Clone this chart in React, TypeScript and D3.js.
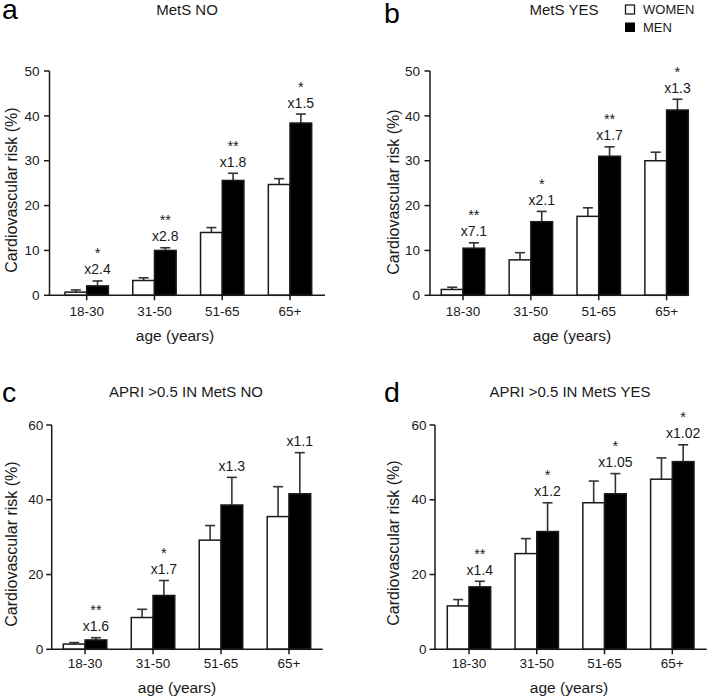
import React from "react";
import * as d3 from "d3";

const categories = ["18-30", "31-50", "51-65", "65+"];
const seriesNames = ["WOMEN", "MEN"];

// Panel a: MetS NO
const aWomen = [0.7, 3.3, 14.0, 24.7];
const aWomenErr = [1.2, 3.9, 15.1, 26.0];
const aMen = [2.1, 10.0, 25.6, 38.4];
const aMenErr = [3.2, 10.6, 27.2, 40.4];
const aStars = ["*", "**", "**", "*"];
const aRatios = ["x2.4", "x2.8", "x1.8", "x1.5"];

// Panel b: MetS YES
const bWomen = [1.3, 7.9, 17.6, 30.0];
const bWomenErr = [1.8, 9.5, 19.5, 31.9];
const bMen = [10.5, 16.4, 31.0, 41.3];
const bMenErr = [11.7, 18.7, 33.1, 43.7];
const bStars = ["**", "*", "**", "*"];
const bRatios = ["x7.1", "x2.1", "x1.7", "x1.3"];

// Panel c: APRI >0.5 IN MetS NO
const cWomen = [1.4, 8.5, 29.2, 35.5];
const cWomenErr = [1.8, 10.7, 33.1, 43.5];
const cMen = [2.5, 14.4, 38.6, 41.6];
const cMenErr = [3.1, 18.4, 46.0, 52.6];
const cStars = ["**", "*", "", ""];
const cRatios = ["x1.6", "x1.7", "x1.3", "x1.1"];

// Panel d: APRI >0.5 IN MetS YES
const dWomen = [11.6, 25.6, 39.2, 45.5];
const dWomenErr = [13.3, 29.6, 45.0, 51.2];
const dMen = [16.7, 31.5, 41.6, 50.2];
const dMenErr = [18.2, 39.2, 47.0, 54.7];
const dStars = ["**", "*", "*", "*"];
const dRatios = ["x1.4", "x1.2", "x1.05", "x1.02"];

const yTicksAB = [0, 10, 20, 30, 40, 50];
const yTicksCD = [0, 20, 40, 60];

const panelLetters = ["a", "b", "c", "d"];
const panelTitles = ["MetS NO", "MetS YES", "APRI >0.5 IN MetS NO", "APRI >0.5 IN MetS YES"];
const yTitle = "Cardiovascular risk (%)";
const xTitle = "age (years)";

const FONT = "'Liberation Sans', Arial, Helvetica, sans-serif";
const INK = "#1a1a1a";

type Layout = {
  axisX: number; axisEnd: number; barStart: number; barEnd: number;
  yTopPx: number; y0Px: number; yMax: number; ticks: number[];
  titleX: number; titleY: number; letterX: number; letterY: number;
  yTitleX: number; yTitleY: number; xLabY: number; xTitleX: number; xTitleY: number;
  tickGap: number;
};

const layouts: Layout[] = [
  { axisX: 49.5, axisEnd: 325, barStart: 65, barEnd: 311.7, yTopPx: 71, y0Px: 295.3, yMax: 50, ticks: yTicksAB,
    titleX: 187, titleY: 14.5, letterX: 2, letterY: 18.5, yTitleX: 17, yTitleY: 190, xLabY: 315.5, xTitleX: 175, xTitleY: 340.5, tickGap: 10 },
  { axisX: 430, axisEnd: 688, barStart: 441.3, barEnd: 688.3, yTopPx: 71, y0Px: 295.3, yMax: 50, ticks: yTicksAB,
    titleX: 564, titleY: 14.5, letterX: 384, letterY: 23, yTitleX: 399, yTitleY: 192, xLabY: 315.5, xTitleX: 572, xTitleY: 340.5, tickGap: 10 },
  { axisX: 51.7, axisEnd: 322.7, barStart: 63.3, barEnd: 310.7, yTopPx: 425, y0Px: 649.3, yMax: 60, ticks: yTicksCD,
    titleX: 186, titleY: 397, letterX: 2, letterY: 402, yTitleX: 17, yTitleY: 544, xLabY: 668, xTitleX: 177, xTitleY: 693, tickGap: 8.5 },
  { axisX: 435, axisEnd: 706.7, barStart: 447.3, barEnd: 694, yTopPx: 425, y0Px: 649.3, yMax: 60, ticks: yTicksCD,
    titleX: 570, titleY: 397, letterX: 384, letterY: 402, yTitleX: 399, yTitleY: 543, xLabY: 668, xTitleX: 569, xTitleY: 693, tickGap: 8.5 },
];

const panelData = [
  { women: aWomen, womenErr: aWomenErr, men: aMen, menErr: aMenErr, stars: aStars, ratios: aRatios },
  { women: bWomen, womenErr: bWomenErr, men: bMen, menErr: bMenErr, stars: bStars, ratios: bRatios },
  { women: cWomen, womenErr: cWomenErr, men: cMen, menErr: cMenErr, stars: cStars, ratios: cRatios },
  { women: dWomen, womenErr: dWomenErr, men: dMen, menErr: dMenErr, stars: dStars, ratios: dRatios },
];

function Panel({ idx }: { idx: number }) {
  const L = layouts[idx];
  const D = panelData[idx];
  const y = d3.scaleLinear().domain([0, L.yMax]).range([L.y0Px, L.yTopPx]);
  const x = d3.scaleBand<string>().domain(categories).range([L.barStart, L.barEnd]).paddingInner(0.36).paddingOuter(0);
  const xs = d3.scaleBand<string>().domain(seriesNames).range([0, x.bandwidth()]);
  const bw = xs.bandwidth();
  const capHalf = 5;

  const bars: React.ReactNode[] = [];
  categories.forEach((cat, i) => {
    const series = [
      { name: "WOMEN", v: D.women[i], e: D.womenErr[i], fill: "#ffffff" },
      { name: "MEN", v: D.men[i], e: D.menErr[i], fill: "#000000" },
    ];
    series.forEach((s) => {
      const bx = (x(cat) as number) + (xs(s.name) as number);
      const cx = bx + bw / 2;
      bars.push(
        <g key={cat + s.name}>
          <line x1={cx} x2={cx} y1={y(s.v)} y2={y(s.e)} stroke="#333" strokeWidth={1.6} />
          <line x1={cx - capHalf} x2={cx + capHalf} y1={y(s.e)} y2={y(s.e)} stroke="#333" strokeWidth={1.6} />
          <rect x={bx} y={y(s.v)} width={bw} height={y(0) - y(s.v)} fill={s.fill} stroke={INK} strokeWidth={1.5} />
        </g>
      );
    });
    const mx = (x(cat) as number) + (xs("MEN") as number) + bw / 2;
    const base = y(D.menErr[i]) - 6.5;
    bars.push(
      <g key={cat + "ann"} fontFamily={FONT} fill={INK} textAnchor="middle">
        <text x={mx} y={base} fontSize={14}>{D.ratios[i]}</text>
        {D.stars[i] ? <text x={mx} y={base - 16} fontSize={14.5}>{D.stars[i]}</text> : null}
      </g>
    );
  });

  return (
    <g>
      <text x={L.letterX} y={L.letterY} fontFamily={FONT} fontSize={28.5} fill="#000">{panelLetters[idx]}</text>
      <text x={L.titleX} y={L.titleY} fontFamily={FONT} fontSize={15} fill={INK} textAnchor="middle">{panelTitles[idx]}</text>
      <text transform={`translate(${L.yTitleX},${L.yTitleY}) rotate(-90)`} fontFamily={FONT} fontSize={16} fill={INK} textAnchor="middle">{yTitle}</text>
      <text x={L.xTitleX} y={L.xTitleY} fontFamily={FONT} fontSize={15.5} fill={INK} textAnchor="middle">{xTitle}</text>
      {bars}
      {/* y axis */}
      <line x1={L.axisX} x2={L.axisX} y1={y(L.yMax)} y2={y(0) + 0.75} stroke={INK} strokeWidth={1.5} />
      {L.ticks.map((t) => (
        <g key={"yt" + t}>
          <line x1={L.axisX - 5.5} x2={L.axisX} y1={y(t)} y2={y(t)} stroke={INK} strokeWidth={1.5} />
          <text x={L.axisX - L.tickGap} y={y(t)} dy="0.35em" fontFamily={FONT} fontSize={13.5} fill={INK} textAnchor="end">{t}</text>
        </g>
      ))}
      {/* x axis */}
      <line x1={L.axisX - 0.75} x2={L.axisEnd} y1={y(0)} y2={y(0)} stroke={INK} strokeWidth={1.5} />
      {categories.map((cat) => {
        const cx = (x(cat) as number) + x.bandwidth() / 2;
        return (
          <g key={"xt" + cat}>
            <line x1={cx} x2={cx} y1={y(0)} y2={y(0) + 5} stroke={INK} strokeWidth={1.5} />
            <text x={cx} y={L.xLabY} fontFamily={FONT} fontSize={13.5} fill={INK} textAnchor="middle">{cat}</text>
          </g>
        );
      })}
    </g>
  );
}

export default function App() {
  return (
    <svg width={708} height={700} style={{ position: "absolute", left: 0, top: 0, background: "#fff" }}>
      <rect x={0} y={0} width={708} height={700} fill="#fff" />
      {[0, 1, 2, 3].map((i) => <Panel key={i} idx={i} />)}
      {/* legend */}
      <g fontFamily={FONT} fontSize={13} fill={INK}>
        <rect x={625.5} y={5} width={9} height={9} fill="#fff" stroke={INK} strokeWidth={1.3} />
        <text x={643} y={13.8}>{seriesNames[0]}</text>
        <rect x={625} y={22.5} width={10} height={9.5} fill="#000" />
        <text x={643} y={31.5}>{seriesNames[1]}</text>
      </g>
    </svg>
  );
}
